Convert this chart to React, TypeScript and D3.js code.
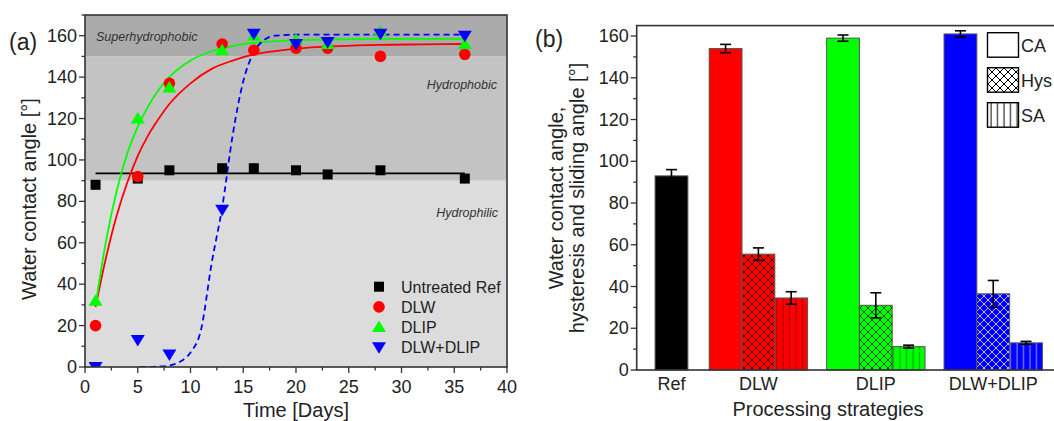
import React from "react";
import * as d3 from "d3";

// ---------- Panel (a) data ----------
const days = [1, 5, 8, 13, 16, 20, 23, 28, 36];
const refVals = [88, 91, 95, 96, 96, 95, 93, 95, 91];
const dlwVals = [20, 92, 137, 156, 153, 154, 154, 150, 151];
const dlipVals = [32, 120, 135, 153, 160, 158, 156, 162, 156];
const comboVals = [0, 13, 6, 76, 161, 156, 157, 161, 160];

const refFitX = [1, 36];
const refFitY = [93.5, 93.5];
const dlwFitX = [1, 2, 3, 4, 5, 6, 7, 8, 10, 12, 14, 16, 18, 20, 24, 28, 32, 36];
const dlwFitY = [29, 53, 73, 89, 102, 112, 120, 127, 137, 144, 148, 151, 152.6, 153.8, 155, 155.6, 155.8, 156];
const dlipFitX = [1, 2, 3, 4, 5, 6, 7, 8, 10, 12, 14, 16, 20, 25, 30, 36];
const dlipFitY = [30, 61, 85, 103, 116, 126, 134, 140, 148, 152.5, 155, 156.5, 157.8, 158.3, 158.5, 158.5];
const comboFitX = [5.2, 6, 7, 8, 9, 10, 11, 12, 13, 14, 15, 16, 17, 18, 20, 25, 30, 36];
const comboFitY = [0, 0, 0.2, 0.7, 2.5, 7, 18, 50, 77, 112, 138, 152, 158, 160, 160.5, 160.5, 160.5, 160.5];

const bandLimits = [0, 90, 150, 170];
const bandNames = ["Hydrophilic", "Hydrophobic", "Superhydrophobic"];
const bandColors = ["#dcdcdc", "#c3c3c3", "#ababab"];

const seriesNames = ["Untreated Ref", "DLW", "DLIP", "DLW+DLIP"];
const seriesColors = ["#000000", "#ff0000", "#00ff00", "#0000ff"];

const xTicksA = [0, 5, 10, 15, 20, 25, 30, 35, 40];
const yTicksA = [0, 20, 40, 60, 80, 100, 120, 140, 160];

// ---------- Panel (b) data ----------
const categories = ["Ref", "DLW", "DLIP", "DLW+DLIP"];
const catPos = [1.06, 3.71, 7.29, 10.87];
const caVals = [93, 154, 159, 161];
const caErr = [3, 2, 1.5, 1.5];
const hysVals = [null, 55.5, 31, 36.5];
const hysErr = [0, 3, 6, 6.4];
const saVals = [null, 34.5, 11.2, 13];
const saErr = [0, 3, 0.7, 0.7];
const legendB = ["CA", "Hys", "SA"];
const yTicksB = [0, 20, 40, 60, 80, 100, 120, 140, 160];

const FONT = "'Liberation Sans', Arial, sans-serif";

export default function App() {
  // Panel a scales
  const xA = d3.scaleLinear().domain([0, 40]).range([85, 507]);
  const yA = d3.scaleLinear().domain([0, 170]).range([367, 15]);
  // Panel b scales
  const xB = d3.scaleLinear().domain([0, 1]).range([636.7, 669.5]);
  const yB = d3.scaleLinear().domain([0, 165]).range([370, 25.6]);
  const bw = xB(1) - xB(0);

  const line = d3
    .line<[number, number]>()
    .x((d) => xA(d[0]))
    .y((d) => yA(d[1]))
    .curve(d3.curveMonotoneX);
  const zip = (a: number[], b: number[]) => a.map((v, i) => [v, b[i]] as [number, number]);

  const valsA = [refVals, dlwVals, dlipVals, comboVals];
  const fits = [
    zip(refFitX, refFitY),
    zip(dlwFitX, dlwFitY),
    zip(dlipFitX, dlipFitY),
    zip(comboFitX, comboFitY),
  ];

  const marker = (k: number, cx: number, cy: number, key: string) => {
    const c = seriesColors[k];
    if (k === 0) return <rect key={key} x={cx - 5} y={cy - 5} width={10} height={10} fill={c} />;
    if (k === 1) return <circle key={key} cx={cx} cy={cy} r={5.8} fill={c} />;
    if (k === 2)
      return <path key={key} d={`M${cx},${cy - 6.5} L${cx + 7},${cy + 5} L${cx - 7},${cy + 5} Z`} fill={c} />;
    return <path key={key} d={`M${cx},${cy + 6.5} L${cx + 7},${cy - 5} L${cx - 7},${cy - 5} Z`} fill={c} />;
  };

  const minorA = d3.range(0, 171, 10);
  const minorAx = d3.range(0, 40.1, 2.5);
  const minorB = d3.range(0, 166, 10);

  const errBar = (cx: number, v: number, e: number, key: string) => (
    <g key={key} stroke="#000" strokeWidth={1.6}>
      <line x1={cx} x2={cx} y1={yB(v + e)} y2={yB(v - e)} />
      <line x1={cx - 5.5} x2={cx + 5.5} y1={yB(v + e)} y2={yB(v + e)} />
      <line x1={cx - 5.5} x2={cx + 5.5} y1={yB(v - e)} y2={yB(v - e)} />
    </g>
  );

  const hatchLine = (i: number) => (i === 3 ? "#ffffff" : "#000000");
  const hatchOp = (i: number) => (i === 3 ? 0.75 : 0.7);
  const vertOp = (i: number) => (i === 3 ? 0.6 : 0.35);

  return (
    <svg
      width={1054}
      height={421}
      style={{ position: "absolute", left: 0, top: 0, background: "#fff" }}
      fontFamily={FONT}
    >
      <defs>
        {seriesColors.map((c, i) => (
          <pattern key={"h" + i} id={"hatch" + i} patternUnits="userSpaceOnUse" width={8} height={8}>
            <rect width={8} height={8} fill={c} />
            <path d="M0,0 L8,8 M-4,4 L4,12 M4,-4 L12,4 M8,0 L0,8 M-4,4 L4,-4 M4,12 L12,4" stroke={hatchLine(i)} strokeOpacity={hatchOp(i)} strokeWidth={1} />
          </pattern>
        ))}
        {seriesColors.map((c, i) => (
          <pattern key={"v" + i} id={"vert" + i} patternUnits="userSpaceOnUse" width={6.5} height={10}>
            <rect width={6.5} height={10} fill={c} />
            <line x1={3} x2={3} y1={0} y2={10} stroke={hatchLine(i)} strokeOpacity={vertOp(i)} strokeWidth={1} />
          </pattern>
        ))}
        <pattern id="hatchLeg" patternUnits="userSpaceOnUse" width={8} height={8}>
          <rect width={8} height={8} fill="#fff" />
          <path d="M0,0 L8,8 M-4,4 L4,12 M4,-4 L12,4 M8,0 L0,8 M-4,4 L4,-4 M4,12 L12,4" stroke="#000" strokeWidth={1} />
        </pattern>
        <pattern id="vertLeg" patternUnits="userSpaceOnUse" width={6.5} height={10}>
          <rect width={6.5} height={10} fill="#fff" />
          <line x1={3} x2={3} y1={0} y2={10} stroke="#000" strokeWidth={1} />
        </pattern>
        <clipPath id="clipA">
          <rect x={xA(0)} y={yA(170)} width={xA(40) - xA(0)} height={yA(0) - yA(170)} />
        </clipPath>
      </defs>

      {/* ================= Panel (a) ================= */}
      {bandNames.map((n, i) => (
        <rect
          key={n}
          x={xA(0)}
          y={yA(bandLimits[i + 1])}
          width={xA(40) - xA(0)}
          height={yA(bandLimits[i]) - yA(bandLimits[i + 1])}
          fill={bandColors[i]}
        />
      ))}
      <text x={96} y={41} fontSize={12.5} fontStyle="italic" fill="#333">
        {bandNames[2]}
      </text>
      <text x={497} y={89} fontSize={12.5} fontStyle="italic" fill="#333" textAnchor="end">
        {bandNames[1]}
      </text>
      <text x={498} y={217} fontSize={12.5} fontStyle="italic" fill="#333" textAnchor="end">
        {bandNames[0]}
      </text>

      <g clipPath="url(#clipA)">
        {fits.map((f, k) => (
          <path
            key={"fit" + k}
            d={line(f) || ""}
            fill="none"
            stroke={seriesColors[k]}
            strokeWidth={1.8}
            strokeDasharray={k === 3 ? "6,4" : undefined}
          />
        ))}
        {valsA.map((vals, k) => vals.map((v, j) => marker(k, xA(days[j]), yA(v), `m${k}-${j}`)))}
      </g>

      {/* frame a */}
      <rect x={xA(0)} y={yA(170)} width={xA(40) - xA(0)} height={yA(0) - yA(170)} fill="none" stroke="#333" strokeWidth={1.6} />
      {minorA.map((v) => (
        <line key={"ya" + v} x1={xA(0)} x2={xA(0) - (v % 20 === 0 ? 6 : 3.5)} y1={yA(v)} y2={yA(v)} stroke="#333" strokeWidth={1.3} />
      ))}
      {yTicksA.map((v) => (
        <text key={"yal" + v} x={xA(0) - 8} y={yA(v) + 6} fontSize={18} textAnchor="end" fill="#222">
          {v}
        </text>
      ))}
      {minorAx.map((v) => (
        <line key={"xa" + v} x1={xA(v)} x2={xA(v)} y1={yA(0)} y2={yA(0) + (v % 5 === 0 ? 6 : 3.5)} stroke="#333" strokeWidth={1.3} />
      ))}
      {xTicksA.map((v) => (
        <text key={"xal" + v} x={xA(v)} y={393} fontSize={18} textAnchor="middle" fill="#222">
          {v}
        </text>
      ))}
      <text x={296} y={417} fontSize={20} textAnchor="middle" fill="#222">
        Time [Days]
      </text>
      <text transform="translate(36,199) rotate(-90)" fontSize={20} textAnchor="middle" fill="#222">
        Water contact angle [°]
      </text>
      <text x={9} y={50} fontSize={23} fill="#222">
        (a)
      </text>

      {/* legend a */}
      {seriesNames.map((n, k) => {
        const cy = 286.7 + k * 20.2;
        return (
          <g key={"la" + n}>
            {marker(k, 379, cy, "lm" + k)}
            <text x={401} y={cy + 6} fontSize={16} fill="#222">
              {n}
            </text>
          </g>
        );
      })}

      {/* ================= Panel (b) ================= */}
      {categories.map((c, i) => {
        const p = catPos[i];
        const bars: JSX.Element[] = [];
        const caX = i === 0 ? p - 0.5 : p - 1.5;
        bars.push(
          <rect key={"ca" + i} x={xB(caX)} y={yB(caVals[i])} width={bw} height={yB(0) - yB(caVals[i])} fill={seriesColors[i]} stroke="#555" strokeWidth={1} />
        );
        bars.push(errBar(xB(caX + 0.5), caVals[i], caErr[i], "cae" + i));
        const hv = hysVals[i];
        if (hv !== null) {
          bars.push(
            <rect key={"hy" + i} x={xB(p - 0.5)} y={yB(hv)} width={bw} height={yB(0) - yB(hv)} fill={`url(#hatch${i})`} stroke="#555" strokeWidth={1} />
          );
          bars.push(errBar(xB(p), hv, hysErr[i], "hye" + i));
        }
        const sv = saVals[i];
        if (sv !== null) {
          bars.push(
            <rect key={"sa" + i} x={xB(p + 0.5)} y={yB(sv)} width={bw} height={yB(0) - yB(sv)} fill={`url(#vert${i})`} stroke="#555" strokeWidth={1} />
          );
          bars.push(errBar(xB(p + 1), sv, saErr[i], "sae" + i));
        }
        return <g key={"grp" + c}>{bars}</g>;
      })}

      {/* frame b */}
      <rect x={xB(0)} y={yB(165)} width={460} height={yB(0) - yB(165)} fill="none" stroke="#333" strokeWidth={1.6} />
      {minorB.map((v) => (
        <line key={"yb" + v} x1={xB(0)} x2={xB(0) - (v % 20 === 0 ? 6 : 3.5)} y1={yB(v)} y2={yB(v)} stroke="#333" strokeWidth={1.3} />
      ))}
      {yTicksB.map((v) => (
        <text key={"ybl" + v} x={xB(0) - 8} y={yB(v) + 6} fontSize={18} textAnchor="end" fill="#222">
          {v}
        </text>
      ))}
      {categories.map((c, i) => (
        <text key={"xbl" + c} x={xB(catPos[i])} y={390} fontSize={18} textAnchor="middle" fill="#222">
          {c}
        </text>
      ))}
      <text x={828} y={416} fontSize={20} textAnchor="middle" fill="#222">
        Processing strategies
      </text>
      <text transform="translate(563,198) rotate(-90)" fontSize={20} textAnchor="middle" fill="#222">
        Water contact angle,
      </text>
      <text transform="translate(584,198) rotate(-90)" fontSize={20} textAnchor="middle" fill="#222">
        hysteresis and sliding angle [°]
      </text>
      <text x={535} y={47} fontSize={23} fill="#222">
        (b)
      </text>

      {/* legend b */}
      {legendB.map((n, k) => {
        const y0 = 32.7 + k * 35;
        const fill = k === 0 ? "#fff" : k === 1 ? "url(#hatchLeg)" : "url(#vertLeg)";
        return (
          <g key={"lb" + n}>
            <rect x={987.5} y={y0} width={31} height={24.5} fill={fill} stroke="#000" strokeWidth={1.4} />
            <text x={1021} y={y0 + 19} fontSize={18} fill="#222">
              {n}
            </text>
          </g>
        );
      })}
    </svg>
  );
}
